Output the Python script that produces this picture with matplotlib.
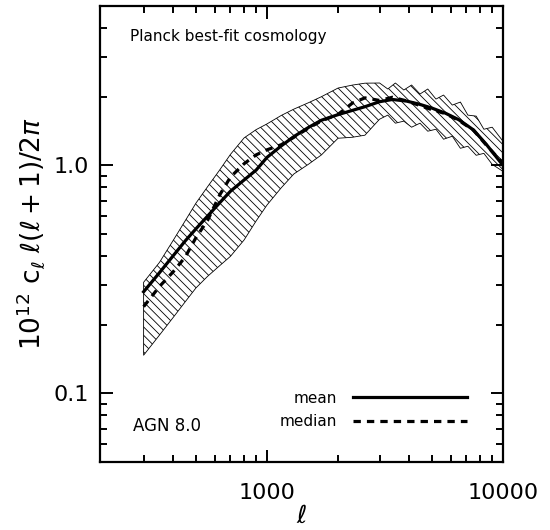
import matplotlib
matplotlib.use('Agg')
import matplotlib.pyplot as plt
import numpy as np
from matplotlib.ticker import LogLocator, NullFormatter, FixedLocator, FixedFormatter

# --- data ---
ell = [300, 350, 400, 450, 500, 560, 630, 700, 800, 900, 1000, 1150, 1300, 1500,
       1700, 2000, 2300, 2600, 3000, 3400, 3900, 4400, 5000, 5700, 6500, 7500,
       8500, 10000]
cl_mean = [0.279, 0.338, 0.401, 0.466, 0.527, 0.599, 0.685, 0.770, 0.863, 0.954,
           1.084, 1.218, 1.337, 1.467, 1.577, 1.669, 1.742, 1.808, 1.902, 1.945,
           1.914, 1.857, 1.783, 1.694, 1.585, 1.430, 1.236, 1.000]
cl_median = [0.240, 0.294, 0.341, 0.396, 0.482, 0.574, 0.741, 0.888, 1.017, 1.112,
             1.170, 1.232, 1.328, 1.458, 1.566, 1.673, 1.875, 1.977, 1.926, 1.989,
             1.918, 1.836, 1.754, 1.686, 1.574, 1.426, 1.227, 1.020]

# scatter band (finer sampling at high ell where the edges are jagged)
ell_band = [300, 350, 400, 450, 500, 560, 630, 700, 800, 900, 1000, 1150, 1300,
            1500, 1700, 2000, 2300, 2600, 3000, 3250, 3500, 3800, 4100, 4450,
            4800, 5200, 5600, 6100, 6600, 7100, 7700, 8300, 9000, 10000]
cl_upper = [0.307, 0.375, 0.468, 0.571, 0.683, 0.806, 0.954, 1.117, 1.320, 1.435,
            1.520, 1.656, 1.765, 1.883, 2.000, 2.183, 2.249, 2.293, 2.297, 2.162,
            2.297, 2.140, 2.251, 2.055, 2.162, 1.953, 2.034, 1.838, 1.895, 1.661,
            1.644, 1.440, 1.470, 1.276]
cl_lower = [0.147, 0.180, 0.215, 0.252, 0.290, 0.326, 0.363, 0.399, 0.471, 0.571,
            0.670, 0.798, 0.917, 1.012, 1.111, 1.315, 1.328, 1.356, 1.594, 1.661,
            1.531, 1.563, 1.470, 1.531, 1.412, 1.440, 1.302, 1.342, 1.188, 1.213,
            1.107, 1.129, 1.010, 0.941]

x_minor = [300, 400, 500, 600, 700, 800, 900,
           2000, 3000, 4000, 5000, 6000, 7000, 8000, 9000]

plt.rcParams['font.family'] = ['DejaVu Sans']
plt.rcParams['mathtext.fontset'] = 'dejavusans'
plt.rcParams['hatch.linewidth'] = 0.6

fig = plt.figure(figsize=(5.5, 5.3), dpi=100)
ax = fig.add_axes([0.1818, 0.1283, 0.7327, 0.8604])

ax.fill_between(ell_band, cl_lower, cl_upper, facecolor='none', edgecolor='black',
                hatch='\\\\\\\\', linewidth=0.6)
ax.plot(ell, cl_mean, color='black', lw=2.3, label='mean')
ax.plot(ell, cl_median, color='black', lw=2.3, ls=(0, (2.3, 1.9)), label='median')

ax.set_xscale('log')
ax.set_yscale('log')
ax.set_xlim(196, 10000)
ax.set_ylim(0.05, 5.0)

ax.xaxis.set_major_locator(FixedLocator([1000, 10000]))
ax.xaxis.set_major_formatter(FixedFormatter(['1000', '10000']))
ax.xaxis.set_minor_locator(FixedLocator(x_minor))
ax.xaxis.set_minor_formatter(NullFormatter())
ax.yaxis.set_major_locator(FixedLocator([0.1, 1.0]))
ax.yaxis.set_major_formatter(FixedFormatter(['0.1', '1.0']))
ax.yaxis.set_minor_locator(LogLocator(base=10, subs=np.arange(2, 10)))
ax.yaxis.set_minor_formatter(NullFormatter())

ax.tick_params(which='both', direction='in', top=True, right=True, width=1.4)
ax.tick_params(which='major', length=9, labelsize=16)
ax.tick_params(axis='x', which='major', pad=15)
ax.tick_params(axis='y', which='major', pad=8)
ax.tick_params(which='minor', length=5)
for s in ax.spines.values():
    s.set_linewidth(1.6)

ax.set_xlabel(r'$\ell$', fontsize=18, labelpad=1)
ax.set_ylabel(r'$10^{12}$ c$_\ell$ $\ell(\ell+1)/2\pi$', fontsize=19, labelpad=5)

ax.text(0.074, 0.934, 'Planck best-fit cosmology', transform=ax.transAxes,
        fontsize=11, va='center', ha='left')
ax.text(0.082, 0.079, 'AGN 8.0', transform=ax.transAxes, fontsize=12,
        va='center', ha='left')

ax.legend(loc='lower right', bbox_to_anchor=(0.911, 0.072), frameon=False,
          markerfirst=False, handlelength=7.5, handletextpad=1.0,
          fontsize=11, labelspacing=0.55, borderpad=0, borderaxespad=0)

fig.savefig('out.png', dpi=100)
